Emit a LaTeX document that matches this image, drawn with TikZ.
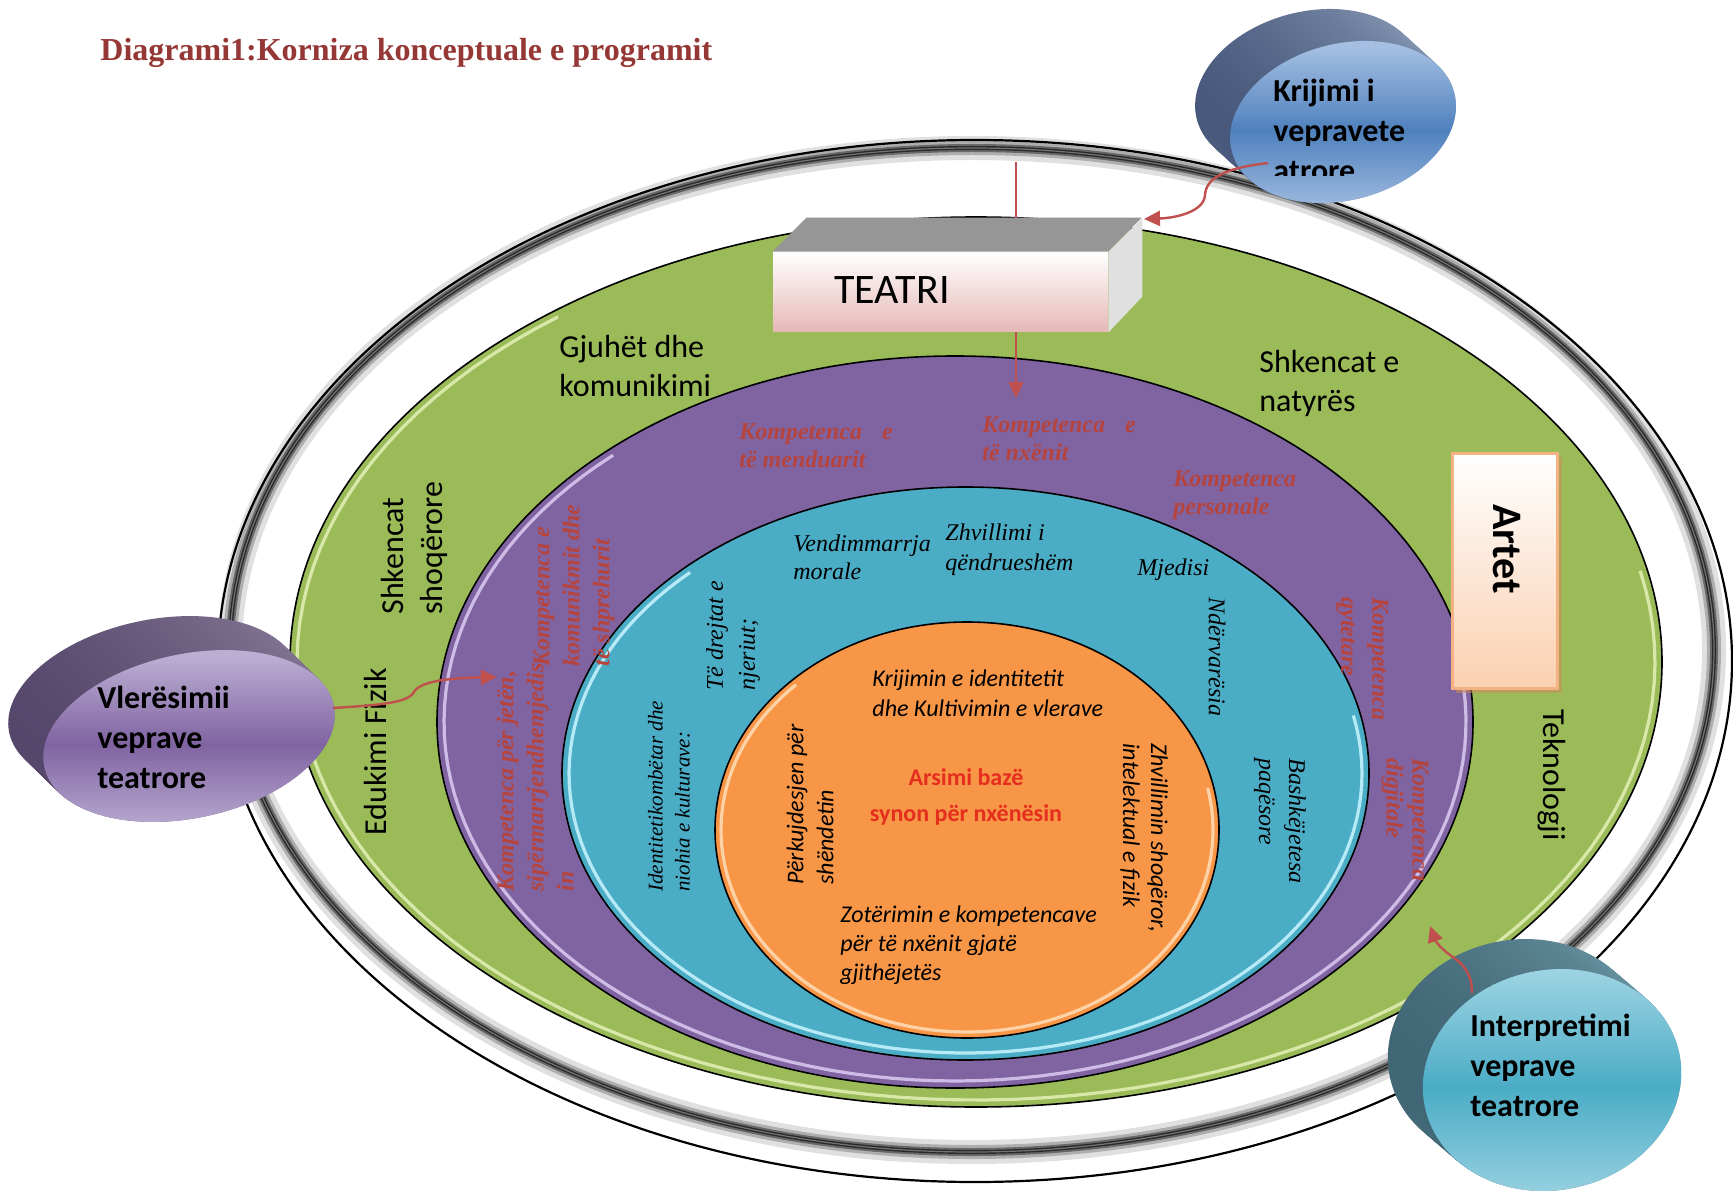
\documentclass[tikz,border=0pt]{standalone}
\usepackage{fontspec}
\setmainfont{Liberation Serif}
\newfontfamily\calfont{Carlito}
\usetikzlibrary{arrows.meta}
\definecolor{ringgreen}{HTML}{9BBB59}
\definecolor{ringpurple}{HTML}{8064A2}
\definecolor{ringblue}{HTML}{4BACC6}
\definecolor{ringorange}{HTML}{F79646}
\definecolor{greenhi}{HTML}{E2F0B8}
\definecolor{purplehi}{HTML}{DCCCF2}
\definecolor{bluehi}{HTML}{C8F6FF}
\definecolor{orangehi}{HTML}{FFDDB8}
\definecolor{titlered}{HTML}{953735}
\definecolor{komred}{HTML}{B5443E}
\definecolor{arrowred}{HTML}{C0504D}
\definecolor{centerred}{HTML}{E62E1E}
\definecolor{boxtop}{HTML}{969696}
\definecolor{boxside}{HTML}{E0E0E0}
\definecolor{boxpink}{HTML}{E6B8B7}
\definecolor{artpeach}{HTML}{FAD0B0}
\definecolor{artborder}{HTML}{F4B183}
\definecolor{artshadow}{HTML}{C98A55}
\definecolor{kside1}{HTML}{46567A}
\definecolor{kside2}{HTML}{8A9DB8}
\definecolor{kfront1}{HTML}{A4BFE2}
\definecolor{kfront2}{HTML}{4F81BD}
\definecolor{vside1}{HTML}{54466A}
\definecolor{vside2}{HTML}{857896}
\definecolor{vfront1}{HTML}{BBAED3}
\definecolor{vfront2}{HTML}{8064A2}
\definecolor{iside1}{HTML}{3F6473}
\definecolor{iside2}{HTML}{6E9AA8}
\definecolor{ifront1}{HTML}{9CD3E2}
\definecolor{ifront2}{HTML}{4BACC6}
\begin{document}
\begin{tikzpicture}[x=0.5pt,y=-0.5pt,
  ringline/.style={draw=black, line width=0.8pt},
  hiline/.style={line width=1.6pt, opacity=0.85},
  grnlbl/.style={font=\calfont\fontsize{16}{19.5}\selectfont, align=left, inner sep=0pt},
  komlbl/.style={font=\fontsize{12}{14}\selectfont\bfseries\itshape, text=komred, align=left, inner sep=0pt},
  bluelbl/.style={font=\fontsize{12}{14}\selectfont\itshape, align=left, inner sep=0pt},
  orlbl/.style={font=\calfont\itshape\fontsize{12}{14.5}\selectfont, align=left, inner sep=0pt},
  bubtxt/.style={font=\calfont\bfseries\fontsize{16}{20}\selectfont, align=left, inner sep=0pt},
  redarrow/.style={draw=arrowred, line width=1.2pt, -{Triangle[length=8pt,width=7.5pt]}},
]
\useasboundingbox (0,0) rectangle (1733,1192);
\fill[white] (0,0) rectangle (1733,1192);

% outer ring
\fill[white] (975,661) ellipse [x radius=757, y radius=521];
\foreach \w/\o in {12/0.12, 7/0.22, 4/0.4, 2/0.6}
  \draw[black, opacity=\o, line width=\w pt] (972,650) ellipse [x radius=742, y radius=502];
\draw[white, opacity=0.35, line width=0.6pt] (972,650) ellipse [x radius=742, y radius=502];
\draw[black, line width=1.1pt] (975,661) ellipse [x radius=757, y radius=521];

% green ring
\fill[ringgreen] (976,662) ellipse [x radius=686, y radius=445];
\draw[hiline, greenhi] plot[domain=-12:232, samples=100] ({976+679*cos(\x)},{662+438*sin(\x)});
\draw[ringline] (976,662) ellipse [x radius=686, y radius=445];

% purple ring
\fill[ringpurple] (955,722) ellipse [x radius=518, y radius=366];
\draw[hiline, purplehi] plot[domain=-8:228, samples=100] ({955+511*cos(\x)},{722+359*sin(\x)});
\draw[ringline] (955,722) ellipse [x radius=518, y radius=366];

% blue ring
\fill[ringblue] (965.5,773.5) ellipse [x radius=403.5, y radius=286.5];
\draw[hiline, bluehi] plot[domain=-12:226, samples=100] ({965.5+396.5*cos(\x)},{773.5+279.5*sin(\x)});
\draw[ringline] (965.5,773.5) ellipse [x radius=403.5, y radius=286.5];

% orange core
\fill[ringorange] (967,830) ellipse [x radius=252, y radius=208];
\draw[hiline, orangehi] plot[domain=-12:226, samples=100] ({967+246*cos(\x)},{830+202*sin(\x)});
\draw[ringline] (967,830) ellipse [x radius=252, y radius=208];

% vertical arrow behind TEATRI box
\coordinate (vtop) at (1016,162);
\coordinate (vtip) at (1016,398);
\draw[redarrow] (vtop) -- (vtip);

% TEATRI box
\node[minimum width=167.5pt, minimum height=40pt, inner sep=0pt, top color=white, bottom color=boxpink] (teatri) at (940.5,292) {};
\fill[boxtop] (teatri.north west) -- ++(34,-34) -- ++(335,0) -- (teatri.north east) -- cycle;
\fill[boxside] (teatri.north east) -- ++(34,-34) -- ++(0,79) -- (teatri.south east) -- cycle;
\node[font=\calfont\fontsize{21}{25}\selectfont, inner sep=0pt] (teatritxt) at (892,290) {TEATRI};
\coordinate (teatriTR) at (1144,219);

% Artet box
\fill[artshadow, opacity=0.55] (1456,457) rectangle (1562,693);
\node[minimum width=52.5pt, minimum height=117.5pt, inner sep=0pt, draw=artborder, line width=1.5pt, top color=white, bottom color=artpeach] (artet) at (1504.5,570.5) {};
\node[rotate=-90, font=\calfont\bfseries\fontsize{21}{25}\selectfont, inner sep=0pt] (artettxt) at (1507,549) {Artet};

% green ring labels
\node[grnlbl, anchor=west] (gjuhet) at (559,366) {Gjuhët dhe\\komunikimi};
\node[grnlbl, anchor=west] (natyres) at (1259,383) {Shkencat e\\natyrës};
\node[grnlbl, rotate=90, anchor=west] (shoqerore) at (414,615) {Shkencat\\shoqërore};
\node[grnlbl, rotate=90] (edukimi) at (376,752) {Edukimi Fizik};
\node[grnlbl, rotate=-90] (teknologji) at (1552,775) {Teknologji};

% purple ring labels
\node[komlbl, anchor=west] (menduarit) at (739,446) {Kompetenca\hspace{10pt}e\\të menduarit};
\node[komlbl, anchor=west] (nxenit) at (982,439) {Kompetenca\hspace{10pt}e\\të nxënit};
\node[komlbl, anchor=west] (personale) at (1173,495) {Kompetenca\\personale};
\node[komlbl, font=\fontsize{12}{15}\selectfont\bfseries\itshape, rotate=90, anchor=west] (komunikimit) at (574,667) {Kompetenca e\\komunikmit dhe\\të shprehurit};
\node[komlbl, font=\fontsize{12}{15}\selectfont\bfseries\itshape, rotate=90, anchor=west] (jeten) at (535,892) {Kompetenca për jetën,\\sipërmarrjendhemjedis\\in};
\node[komlbl, font=\fontsize{12}{15.5}\selectfont\bfseries\itshape, rotate=-90, anchor=west] (qytetare) at (1362,597) {Kompetenca\\qytetare};
\node[komlbl, font=\fontsize{12}{13}\selectfont\bfseries\itshape, rotate=-90, anchor=west] (digjitale) at (1405,758) {Kompetenca\\digjitale};

% blue ring labels
\node[bluelbl, anchor=west] (vendim) at (793,557) {Vendimmarrja\\morale};
\node[bluelbl, font=\fontsize{12}{15}\selectfont\itshape, anchor=west] (zhvillimi) at (945,550) {Zhvillimi i\\qëndrueshëm};
\node[bluelbl, anchor=west] (mjedisi) at (1137,570) {Mjedisi};
\node[bluelbl, font=\fontsize{12}{16}\selectfont\itshape, rotate=90, anchor=west] (drejtat) at (733,691) {Të drejtat e\\njeriut;};
\node[bluelbl, font=\fontsize{10.5}{13.5}\selectfont\itshape, rotate=90, anchor=west] (identiteti) at (669,892) {Identitetikombëtar dhe\\niohia e kulturave:};
\node[bluelbl, rotate=-90, anchor=west] (ndervaresia) at (1217,597) {Ndërvarësia};
\node[bluelbl, font=\fontsize{12}{15}\selectfont\itshape, rotate=-90, anchor=west] (bashkejetesa) at (1280,758) {Bashkëjetesa\\paqësore};

% orange core labels
\node[orlbl, font=\calfont\itshape\fontsize{12}{15}\selectfont, anchor=west] (krijimin) at (872,693) {Krijimin e identitetit\\dhe Kultivimin e vlerave};
\node[font=\calfont\bfseries\fontsize{12}{18}\selectfont, text=centerred, align=center, inner sep=0pt] (arsimi) at (966,797) {Arsimi bazë\\synon për nxënësin};
\node[orlbl, font=\calfont\itshape\fontsize{12}{15}\selectfont, rotate=90, anchor=west] (perkujdesjen) at (810,885) {Përkujdesjen për\\shëndetin};
\node[orlbl, font=\calfont\itshape\fontsize{12}{14}\selectfont, rotate=-90, anchor=west] (zhvillimin) at (1144,743) {Zhvillimin shoqëror,\\intelektual e fizik};
\node[orlbl, anchor=west] (zoterimin) at (840,945) {Zotërimin e kompetencave\\për të nxënit gjatë\\gjithëjetës};

% bubble: Krijimi
\foreach \i in {0,...,24}{
  \pgfmathsetmacro\f{1-\i/24}
  \shade[left color=kside1, right color=kside2, rotate around={15:(1343-35*\f,122-32*\f)}] (1343-35*\f,122-32*\f) ellipse [x radius=115, y radius=78];
}
\shade[top color=kfront1, bottom color=kfront1, middle color=kfront2, rotate around={15:(1343,122)}] (1343,122) ellipse [x radius=115, y radius=78];
\begin{scope}
\clip (1200,40) rectangle (1470,176);
\node[bubtxt, anchor=west] (krijimi) at (1273,130) {Krijimi i\\vepravete\\atrore};
\end{scope}
\coordinate (kstart) at (1268,163);
\draw[redarrow] (kstart) .. controls (1225,168) and (1206,178) .. (1205,195) .. controls (1204,212) and (1175,218) .. (teatriTR);

% bubble: Vleresimi
\foreach \i in {0,...,24}{
  \pgfmathsetmacro\f{1-\i/24}
  \shade[left color=vside1, right color=vside2, rotate around={12:(189-35*\f,736-34*\f)}] (189-35*\f,736-34*\f) ellipse [x radius=148, y radius=82];
}
\shade[top color=vfront1, bottom color=vfront1, middle color=vfront2, rotate around={12:(189,736)}] (189,736) ellipse [x radius=148, y radius=82];
\node[bubtxt, anchor=west] (vleresimi) at (97,737) {Vlerësimii\\veprave\\teatrore};
\coordinate (vstart) at (333,708);
\coordinate (vend) at (497,677);
\draw[redarrow] (vstart) .. controls (380,705) and (408,703) .. (414,692) .. controls (420,681) and (450,678) .. (vend);

% bubble: Interpretimi
\foreach \i in {0,...,24}{
  \pgfmathsetmacro\f{1-\i/24}
  \shade[left color=iside1, right color=iside2, rotate around={12:(1552-35*\f,1080-30*\f)}] (1552-35*\f,1080-30*\f) ellipse [x radius=130, y radius=110];
}
\shade[top color=ifront1, bottom color=ifront1, middle color=ifront2, rotate around={12:(1552,1080)}] (1552,1080) ellipse [x radius=130, y radius=110];
\node[bubtxt, anchor=west] (interpretimi) at (1470,1065) {Interpretimi\\veprave\\teatrore};
\coordinate (istart) at (1472,993);
\coordinate (iend) at (1430,926);
\draw[redarrow] (istart) .. controls (1472,972) and (1462,963) .. (1450,955) .. controls (1440,948) and (1435,940) .. (iend);

% title
\node[anchor=west, inner sep=0pt, font=\bfseries\fontsize{16}{19}\selectfont, text=titlered] (title) at (100,53) {Diagrami1:Korniza konceptuale e programit};
\end{tikzpicture}
\end{document}
